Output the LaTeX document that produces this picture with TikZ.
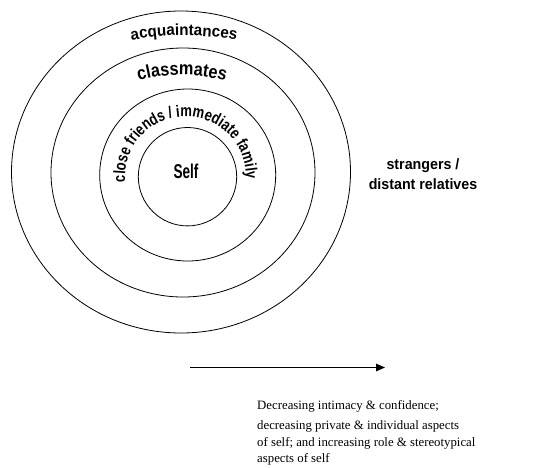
\documentclass[tikz,border=0pt]{standalone}
\usepackage{fontspec}
\setmainfont{Liberation Serif}
\newfontfamily\fAcq{Liberation Sans}[FakeStretch=0.95]
\newfontfamily\fCls{Liberation Sans}[FakeStretch=0.88]
\newfontfamily\fClose{Liberation Sans}[FakeStretch=0.79]
\newfontfamily\fSelf{Liberation Sans}[FakeStretch=0.68]
\newfontfamily\fStr{Liberation Sans}[FakeStretch=0.95]
\usetikzlibrary{shapes.geometric,arrows.meta,decorations.text}
\begin{document}
\begin{tikzpicture}[x=1pt,y=1pt,
  ring/.style={ellipse,draw,line width=0.8pt,inner sep=0pt},
  seriflbl/.style={font=\fontsize{12.8}{15}\selectfont,inner sep=0pt,anchor=base west}]
\fill[white] (0,0) rectangle (536,-467);
\useasboundingbox (0,0) rectangle (536,-467);
% rings
\node[ring,minimum width=339pt,minimum height=322pt] (outer) at (181,-172) {};
\node[ring,minimum width=264pt,minimum height=249pt] (second) at (183,-172.5) {};
\node[ring,minimum width=176pt,minimum height=172pt] (third) at (187.7,-175) {};
\node[ring,minimum width=98.4pt,minimum height=98.4pt] (inner) at (187.5,-176.7) {};
% labels
\node[font=\fSelf\bfseries\fontsize{20}{20}\selectfont,inner sep=0pt,anchor=base] (self) at (186,-178.3) {Self};
\node[font=\fStr\bfseries\fontsize{15}{20}\selectfont,inner sep=0pt,align=center,anchor=base] (strangers) at (423,-189) {strangers /\\distant relatives};
% curved labels
\path[decorate,decoration={text along path,text align=center,
  text={|\fAcq\bfseries\fontsize{16}{16}\selectfont|acquaintances}}]
  (184,-335.5) ++(105:300pt) arc[start angle=105,end angle=75,radius=300pt];
\path[decorate,decoration={text along path,text align=center,
  text={|\fCls\bfseries\fontsize{18.5}{18.5}\selectfont|classmates}}]
  (182,-235) ++(125:160pt) arc[start angle=125,end angle=55,radius=160pt];
\path[decorate,decoration={text along path,text align=center,
  text={|\fClose\bfseries\fontsize{16.5}{16.5}\selectfont|close friends / immediate family}}]
  (185.5,-177) ++(211.5:60.5pt) arc[start angle=211.5,end angle=-28.5,radius=60.5pt];
% arrow
\coordinate (astart) at (190,-367.5);
\coordinate (aend) at (385,-367.5);
\draw[line width=1.1pt,-{Triangle[length=9pt,width=7.5pt]}] (astart) -- (aend);
% bottom text
\node[seriflbl] (l1) at (257,-409) {Decreasing intimacy \& confidence;};
\node[seriflbl] (l2) at (257,-429) {decreasing private \& individual aspects};
\node[seriflbl] (l3) at (257,-446) {of self; and increasing role \& stereotypical};
\node[seriflbl] (l4) at (257,-462) {aspects of self};
\end{tikzpicture}
\end{document}
